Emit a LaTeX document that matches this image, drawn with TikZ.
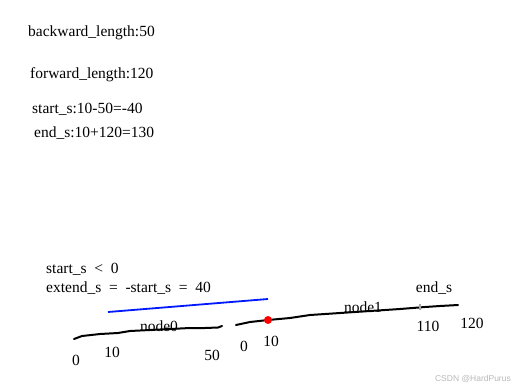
\documentclass[tikz,border=0pt]{standalone}
\usepackage{fontspec}
\setmainfont{Liberation Serif}
\newfontfamily\wmfont{Liberation Sans}
\begin{document}
\begin{tikzpicture}[x=1pt,y=-1pt,
  lbl/.style={inner sep=0pt,anchor=base west,font=\fontsize{15.5}{18}\selectfont},
  num/.style={inner sep=0pt,anchor=base,font=\fontsize{15.5}{18}\selectfont},
  pen/.style={line width=2pt,line cap=round,line join=round,black},
  blueline/.style={line width=1.8pt,blue!90!cyan}]
\useasboundingbox[fill=white] (0,0) rectangle (516,389);
% top texts
\node[lbl] (bl) at (28,36) {backward\_length:50};
\node[lbl] (fl) at (30,78) {forward\_length:120};
\node[lbl] (ss) at (32,113) {start\_s:10-50=-40};
\node[lbl] (es) at (34,137) {end\_s:10+120=130};
% lower texts
\node[lbl] (cond) at (46,273) {start\_s\ \ <\ \ 0};
\node[lbl] (ext) at (46,292) {extend\_s\ \ =\ \ -start\_s\ \ =\ \ 40};
% blue line
\coordinate (b1) at (108,312);
\coordinate (b2) at (268,299);
\draw[blueline] (b1) -- (b2);
% node0 polyline
\coordinate (n0s) at (74,339);
\coordinate (n0e) at (222,326);
\draw[pen] (n0s) -- (82,336) -- (100,334) -- (118,333) -- (130,331) -- (150,330) -- (170,329) -- (190,328) -- (205,328) -- (218,327.5) -- (n0e);
\node[num] (node0) at (159,331) {node0};
% node1 polyline
\coordinate (n1s) at (236,325);
\coordinate (n1e) at (458,305);
\draw[pen] (n1s) -- (250,322) -- (268,320) -- (290,318) -- (310,315) -- (340,313) -- (370,311) -- (400,309) -- (425,307) -- (440,306) -- (n1e);
\node[num] (node1) at (363,312) {node1};
% red point and grey tick
\fill[red] (268,320) circle (4pt);
\draw[line width=2pt,gray!70] (420,304) -- (420,310);
\node[num] (ends) at (434,292) {end\_s};
% numbers
\node[num] (z0) at (76,365) {0};
\node[num] (t10a) at (112,357) {10};
\node[num] (f50) at (212,360) {50};
\node[num] (z1) at (244,351) {0};
\node[num] (t10b) at (271,346) {10};
\node[num] (h110) at (428,331) {110};
\node[num] (h120) at (472,328) {120};
% watermark
\node[inner sep=0pt,anchor=base east,font=\wmfont\fontsize{8.5}{10}\selectfont,text=gray!55] (wm) at (511,381) {CSDN @HardPurus};
\end{tikzpicture}
\end{document}
